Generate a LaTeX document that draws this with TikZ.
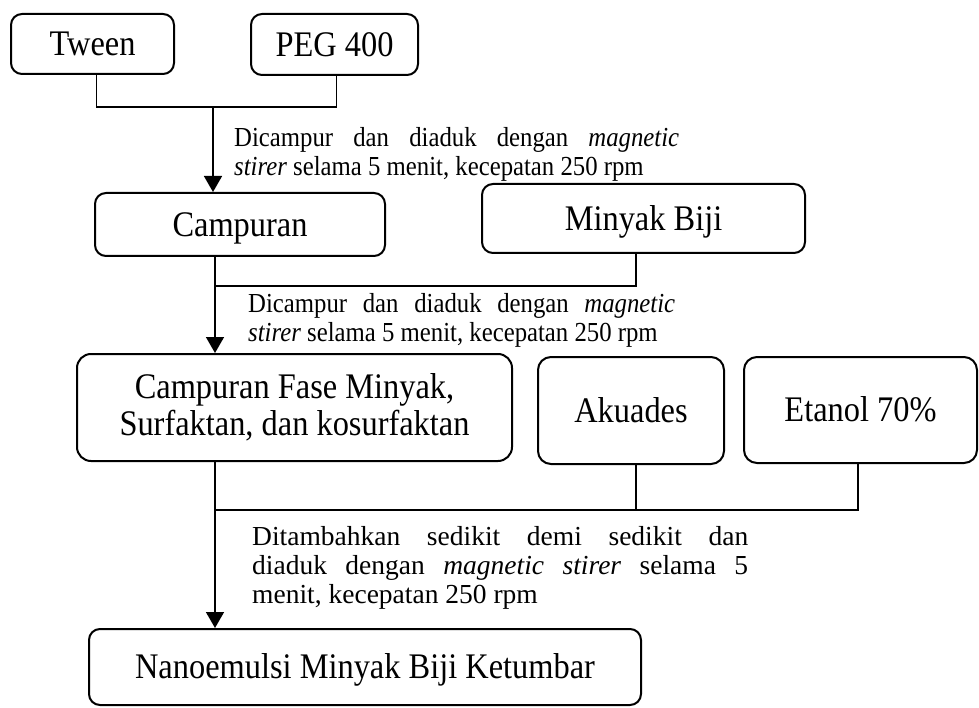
\documentclass[tikz,border=0pt]{standalone}
\usepackage{fontspec}
\setmainfont{Liberation Serif}[FakeStretch=0.9]
\newfontfamily\plainserif{Liberation Serif}
\usetikzlibrary{arrows.meta}
\begin{document}
\begin{tikzpicture}[x=1pt,y=-1pt,
  box/.style={draw, line width=2pt, rounded corners=11pt, align=center, inner sep=0pt,
    font=\fontsize{36}{37}\selectfont},
  oneline/.style={text height=27pt, text depth=3.6pt},
  conn/.style={line width=1.5pt},
  arr/.style={line width=1.5pt, -{Triangle[width=18pt,length=16pt]}},
  lbl/.style={anchor=north west, inner sep=0pt, align=justify,
    font=\fontsize{27.5}{29.5}\selectfont}
]
\useasboundingbox (0,0) rectangle (979,708);

% boxes
\node[box, oneline, minimum width=163pt, minimum height=60pt] (tween) at (92.5,44) {Tween};
\node[box, oneline, minimum width=167pt, minimum height=61pt] (peg) at (334.5,44.5) {PEG 400};
\node[box, oneline, minimum width=290pt, minimum height=63pt] (campuran) at (240,224.5) {Campuran};
\node[box, oneline, minimum width=323pt, minimum height=69pt] (minyak) at (643.5,218.5) {Minyak Biji};
\node[box, rounded corners=14pt, minimum width=435pt, minimum height=107pt] (fase) at (294.5,407.5)
  {Campuran Fase Minyak,\\Surfaktan, dan kosurfaktan};
\node[box, oneline, rounded corners=13pt, minimum width=186pt, minimum height=107pt] (akuades) at (631,410.5) {Akuades};
\node[box, oneline, rounded corners=13pt, minimum width=233pt, minimum height=106pt] (etanol) at (860.5,410) {Etanol 70\%};
\node[box, oneline, minimum width=552pt, minimum height=76pt] (nano) at (365,667) {Nanoemulsi Minyak Biji Ketumbar};

% junctions
\coordinate (j1) at (213,107);
\coordinate (j2) at (215,286);
\coordinate (j3) at (215,510);

% connectors
\draw[conn] ([xshift=4pt]tween.south) |- (j1) -| ([xshift=2pt]peg.south);
\draw[arr] (j1) -- (j1 |- campuran.north);

\draw[conn] ([xshift=-25pt]campuran.south) -- (j2) -| ([xshift=-7.5pt]minyak.south);
\draw[arr] (j2) -- (j2 |- fase.north);

\draw[conn] ([xshift=-79.5pt]fase.south) -- (j3) -| ([xshift=-2.5pt]etanol.south);
\draw[conn] ([xshift=5pt]akuades.south) -- ([xshift=5pt]akuades.south |- j3);
\draw[arr] (j3) -- (j3 |- nano.north);

% labels
\node[lbl, text width=445pt] (l1) at (234,125.3)
  {\strut Dicampur dan diaduk dengan \textit{magnetic}\linebreak \textit{stirer} selama 5 menit, kecepatan 250 rpm};
\node[lbl, text width=427pt] (l2) at (248,291.3)
  {\strut Dicampur dan diaduk dengan \textit{magnetic}\linebreak \textit{stirer} selama 5 menit, kecepatan 250 rpm};
\node[lbl, text width=496pt, font=\plainserif\fontsize{27.5}{29}\selectfont] (l3) at (252,524.7)
  {\strut Ditambahkan sedikit demi sedikit dan\linebreak diaduk dengan \textit{magnetic} \textit{stirer} selama 5\linebreak menit, kecepatan 250 rpm};
\end{tikzpicture}
\end{document}
